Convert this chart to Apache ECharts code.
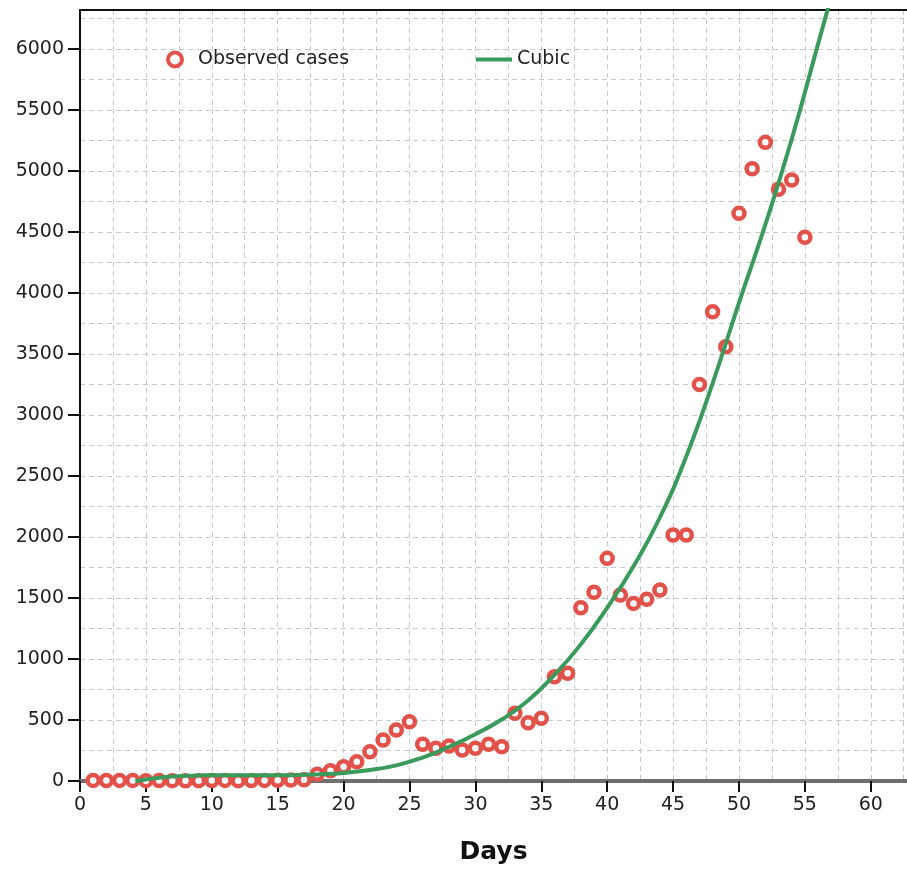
<!DOCTYPE html>
<html><head><meta charset="utf-8">
<script src="https://cdn.jsdelivr.net/npm/echarts@6/dist/echarts.min.js"></script>
<style>html,body{margin:0;padding:0;background:#fff}#c{width:907px;height:871px}</style>
</head><body><div id="c"></div>
<script>
// ---- data ----
const days = [1,2,3,4,5,6,7,8,9,10,11,12,13,14,15,16,17,18,19,20,21,22,23,24,25,26,27,28,29,30,31,32,33,34,35,36,37,38,39,40,41,42,43,44,45,46,47,48,49,50,51,52,53,54,55];
const observed = [5,4,5,5,3,4,3,2,3,4,5,3,4,5,6,8,10,55,84,117,158,240,336,418,486,301,268,287,254,268,301,281,555,478,514,855,883,1420,1547,1825,1525,1456,1489,1566,2016,2016,3251,3847,3560,4653,5019,5235,4850,4926,4457];
const cubicDays = [4.2,5,6,7,8,9,10,12,14,16,18,20,22,24,26,28,30,32,34,36,38,40,42,44,46,48,50,52,54,56,57];
const cubicValues = [0,12,26,36,42,46,48,48,47,48,54,66,90,128,192,280,384,504,660,870,1120,1420,1760,2160,2660,3260,3920,4560,5260,6040,6430];
const xTickLabels = [0,5,10,15,20,25,30,35,40,45,50,55,60];
const yTickLabels = [0,500,1000,1500,2000,2500,3000,3500,4000,4500,5000,5500,6000];

const RED = '#e2524a';
const GREEN = '#3a9a5c';
const FONT = 'DejaVu Sans';

const chart = echarts.init(document.getElementById('c'), null, {renderer: 'canvas'});
const gridLine = {show: true, lineStyle: {color: '#cacaca', width: 1, type: [5, 4]}};

chart.setOption({
  animation: false,
  backgroundColor: '#fff',
  grid: {left: 80, right: 0, top: 10, bottom: 90, containLabel: false},
  legend: [
    {left: 161, top: 45, itemWidth: 36, itemHeight: 14,
     textStyle: {fontFamily: FONT, fontSize: 19, color: '#222'},
     itemStyle: {color: '#fff', borderColor: RED, borderWidth: 4},
     data: ['Observed cases']},
    {left: 471, top: 45, itemWidth: 36, itemHeight: 4,
     textStyle: {fontFamily: FONT, fontSize: 19, color: '#222'},
     data: [{name: 'Cubic', icon: 'rect', itemStyle: {color: GREEN}}]}
  ],
  xAxis: [{
    type: 'value', min: 0, max: 62.75, interval: 5,
    name: 'Days', nameLocation: 'middle', nameGap: 59,
    nameTextStyle: {fontFamily: FONT, fontSize: 25, fontWeight: 'bold', color: '#111'},
    axisLine: {show: true, onZero: false, lineStyle: {color: '#6e6e6e', width: 4}},
    axisTick: {show: true, length: 11, customValues: xTickLabels, lineStyle: {color: '#111', width: 2}},
    axisLabel: {customValues: xTickLabels, margin: 15, fontFamily: FONT, fontSize: 19, color: '#222'},
    splitLine: {show: false}
  }, {
    type: 'value', position: 'top', min: 0, max: 62.75, interval: 2.5,
    axisLine: {show: true, onZero: false, lineStyle: {color: '#111', width: 2}},
    axisTick: {show: false}, axisLabel: {show: false},
    splitLine: gridLine
  }],
  yAxis: [{
    type: 'value', min: 0, max: 6320, interval: 500,
    axisLine: {show: true, onZero: false, lineStyle: {color: '#111', width: 2}},
    axisTick: {show: true, length: 12, customValues: yTickLabels, lineStyle: {color: '#111', width: 2}},
    axisLabel: {customValues: yTickLabels, margin: 16, fontFamily: FONT, fontSize: 19, color: '#222',
                formatter: v => String(v)},
    splitLine: {show: false}
  }, {
    type: 'value', position: 'right', min: 0, max: 6320, interval: 250,
    axisLine: {show: false, onZero: false}, axisTick: {show: false}, axisLabel: {show: false},
    splitLine: gridLine
  }],
  series: [{
    name: 'Observed cases', type: 'scatter',
    symbol: 'circle', symbolSize: 11,
    itemStyle: {color: '#fff', borderColor: RED, borderWidth: 4.5, opacity: 1},
    data: days.map((d, i) => [d, observed[i]]),
    z: 2
  }, {
    name: 'Cubic', type: 'line', smooth: true, showSymbol: false, symbol: 'none',
    lineStyle: {color: GREEN, width: 4},
    itemStyle: {color: GREEN},
    clip: true,
    data: cubicDays.map((d, i) => [d, cubicValues[i]]),
    z: 3
  }]
});
</script></body></html>
